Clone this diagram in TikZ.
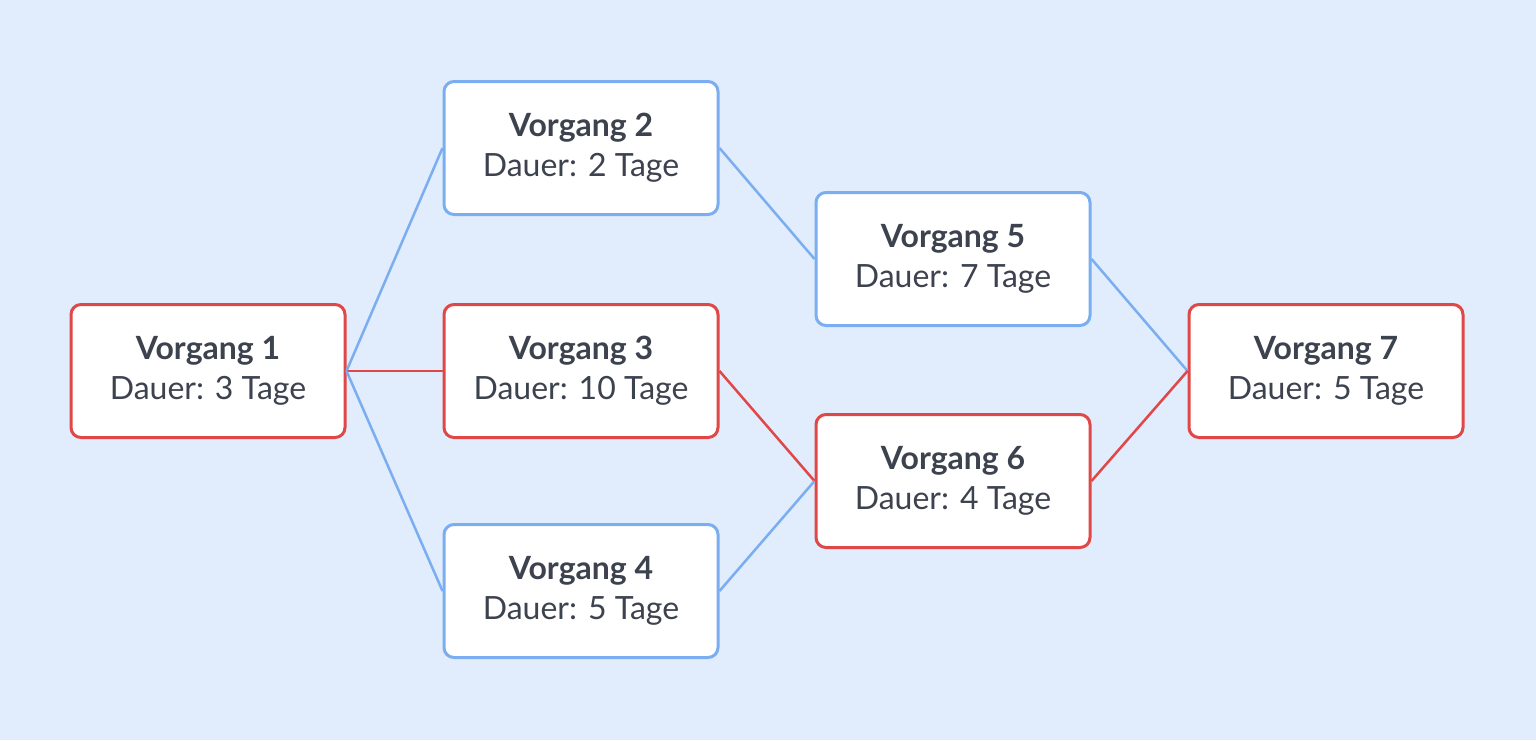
\documentclass[tikz,border=0pt]{standalone}
\usepackage{fontspec}
\setmainfont{Lato}
\definecolor{bgColor}{RGB}{225,236,253}
\definecolor{blueColor}{RGB}{122,174,240}
\definecolor{redColor}{RGB}{224,72,72}
\definecolor{textColor}{RGB}{60,66,78}
\tikzset{
  task/.style={draw, fill=white, line width=3pt, rounded corners=10pt,
    minimum width=274pt, minimum height=133pt, align=center,
    text=textColor, font=\fontsize{32}{40}\selectfont},
  crit/.style={task, draw=redColor},
  noncrit/.style={task, draw=blueColor},
  redline/.style={draw=redColor, line width=2.5pt},
  blueline/.style={draw=blueColor, line width=2.5pt}
}
\begin{document}
\begin{tikzpicture}[x=1pt,y=-1pt]
\path[use as bounding box,fill=bgColor] (0,0) rectangle (1536,740);

% Vorgaenge
\node[crit] (v1) at (208,371) {\textbf{Vorgang 1}\\Dauer: 3 Tage};
\node[noncrit] (v2) at (581,148) {\textbf{Vorgang 2}\\Dauer: 2 Tage};
\node[crit] (v3) at (581,371) {\textbf{Vorgang 3}\\Dauer: 10 Tage};
\node[noncrit] (v4) at (581,591) {\textbf{Vorgang 4}\\Dauer: 5 Tage};
\node[noncrit] (v5) at (953,259) {\textbf{Vorgang 5}\\Dauer: 7 Tage};
\node[crit] (v6) at (953,481) {\textbf{Vorgang 6}\\Dauer: 4 Tage};
\node[crit] (v7) at (1326,371) {\textbf{Vorgang 7}\\Dauer: 5 Tage};

% Verbindungen
\draw[blueline] (v1.east) -- (v2.west);
\draw[redline] (v1.east) -- (v3.west);
\draw[blueline] (v1.east) -- (v4.west);
\draw[blueline] (v2.east) -- (v5.west);
\draw[redline] (v3.east) -- (v6.west);
\draw[blueline] (v4.east) -- (v6.west);
\draw[blueline] (v5.east) -- (v7.west);
\draw[redline] (v6.east) -- (v7.west);
\end{tikzpicture}
\end{document}
